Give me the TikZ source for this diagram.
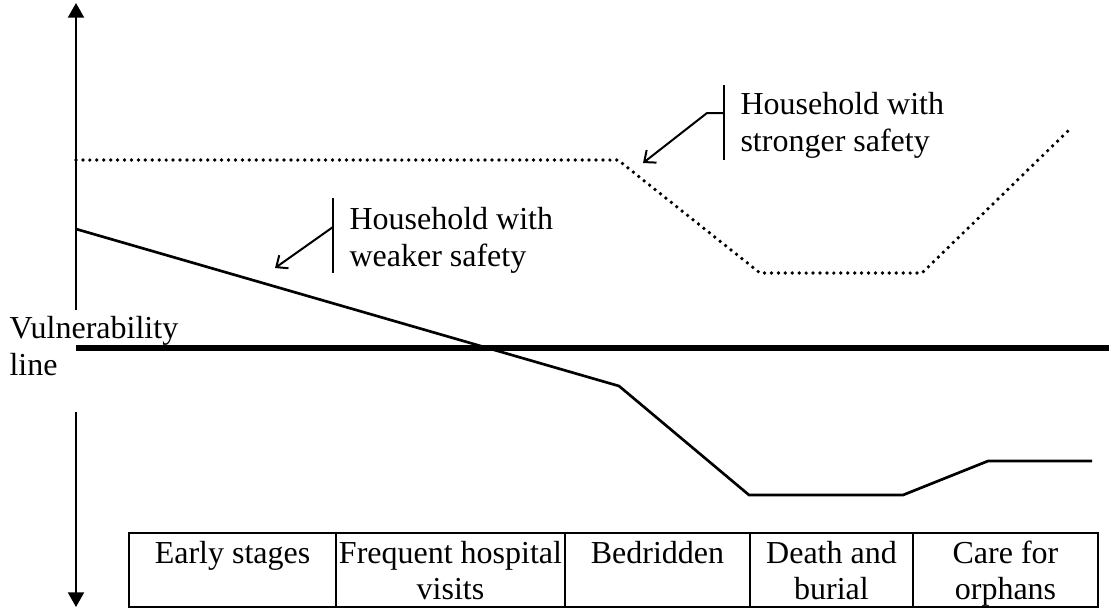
\documentclass[tikz,border=0pt]{standalone}
\usepackage{fontspec}
\setmainfont{Liberation Serif}
\usetikzlibrary{arrows.meta,positioning}
\newcommand{\celltop}{\rule{0pt}{11.2pt}}
\newcommand{\cellbot}{\rule[-2.6pt]{0pt}{2.6pt}}

\begin{document}
\begin{tikzpicture}[
			x=0.375pt, y=-0.375pt,
			axis/.style={line width=0.8pt, draw=black, -{Triangle[length=5.5pt,width=6pt]}},
			vline/.style={line width=1.9pt, draw=black},
			weak/.style={line width=1pt, draw=black},
			strong/.style={line width=1.4pt, line cap=round, dash pattern=on 0pt off 2.6pt},
			callout/.style={line width=0.75pt, draw=black},
			lbl/.style={font=\fontsize{12}{13.8}\selectfont, align=left, inner sep=0pt},
			cell/.style={draw=black, line width=0.75pt, outer sep=0pt, inner sep=0pt,
				minimum height=27.75pt, align=center, font=\fontsize{12}{13.8}\selectfont}
		]
			\useasboundingbox (0,0) rectangle (1109,608);
			\coordinate (top) at (76,3);
			\coordinate (topend) at (76,310);
			\coordinate (bot) at (76,607);
			\coordinate (botend) at (76,412);
			\draw[axis] (topend) -- (top);
			\draw[axis] (botend) -- (bot);
			\draw[vline] (76,348) -- (1109,348);
			\node[lbl, anchor=west] (vul) at (9,346) {Vulnerability\\line};
			% the two households
			\draw[weak] (76,229) -- (619,386) -- (749,495) -- (903,495) -- (988,461) -- (1092,461);
			\draw[strong] (76,160) -- (618,160) -- (760,273) -- (922,273) -- (1072,127);
			% callouts
			\node[lbl, anchor=west] (strongtxt) at (740,125) {Household with\\stronger safety};
			\coordinate (sbar) at (724,113);
			\coordinate (stip) at (643,163);
			\draw[callout] (724,85) -- (724,160);
			\draw[callout, -{Straight Barb[length=3.5pt,width=6pt]}] (sbar) -- (707,113) -- (stip);
			\node[lbl, anchor=west] (weaktxt) at (349,240) {Household with\\weaker safety};
			\coordinate (wbar) at (333,227);
			\coordinate (wtip) at (275,268);
			\draw[callout] (333,198) -- (333,273);
			\draw[callout, -{Straight Barb[length=3.5pt,width=6pt]}] (wbar) -- (wtip);
			% stages
			\node[cell, minimum width=77.625pt, anchor=north west] (early) at (129,533) {\celltop Early stages\\\cellbot};
			\node[cell, minimum width=85.875pt, right=0pt of early] (hosp) {\celltop Frequent hospital\\\cellbot visits};
			\node[cell, minimum width=69.375pt, right=0pt of hosp] (bed) {\celltop Bedridden\\\cellbot};
			\node[cell, minimum width=61.125pt, right=0pt of bed] (death) {\celltop Death and\\\cellbot burial};
			\node[cell, minimum width=69.375pt, right=0pt of death] (orph) {\celltop Care for\\\cellbot orphans};
		\end{tikzpicture}
\end{document}
